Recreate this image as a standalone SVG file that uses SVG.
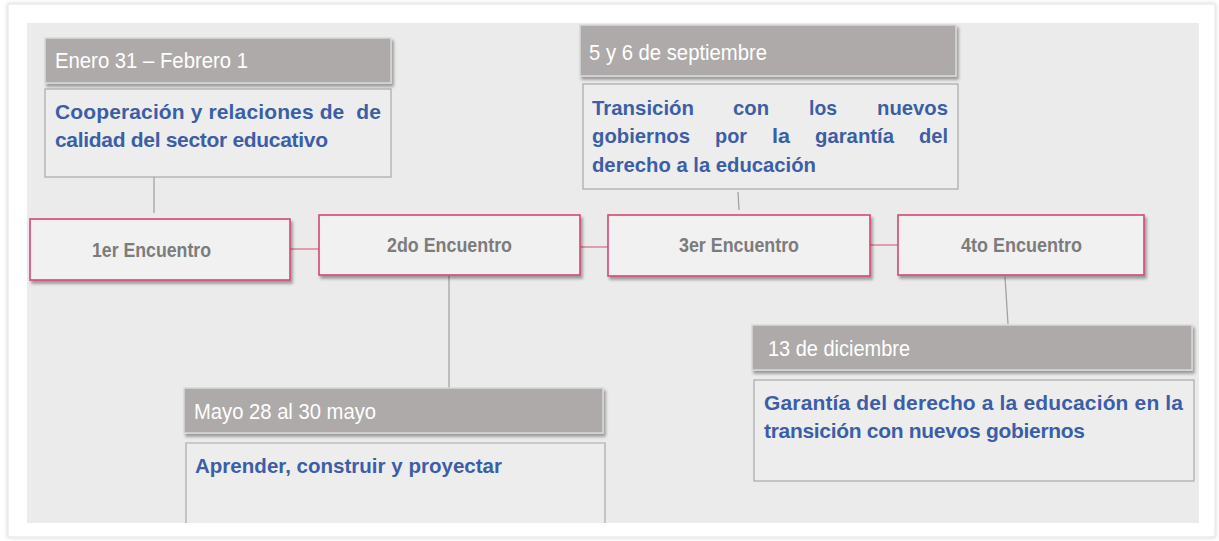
<svg xmlns="http://www.w3.org/2000/svg" width="1219" height="541" viewBox="0 0 1219 541">
<defs>
<filter id="sh" x="-5%" y="-20%" width="112%" height="150%">
<feDropShadow dx="2" dy="3" stdDeviation="1.6" flood-color="#000" flood-opacity="0.35"/>
</filter>
<filter id="card" x="-2%" y="-2%" width="104%" height="104%">
<feDropShadow dx="0" dy="0" stdDeviation="2" flood-color="#000" flood-opacity="0.18"/>
</filter>
<style>
.date{fill:#aeaaa9;stroke:#d9d9d9;stroke-width:1.5;filter:url(#sh)}
.content{fill:#ededed;stroke:#a8a8a8;stroke-width:1.2}
.enc{fill:#f1f1f1;stroke:#d24a70;stroke-width:1.6;filter:url(#sh)}
.dt{font-family:"Liberation Sans",Arial,sans-serif;font-size:22px;fill:#ffffff}
.ct{font-family:"Liberation Sans",Arial,sans-serif;font-size:21px;font-weight:bold;fill:#3c5ea6}
.et{font-family:"Liberation Sans",Arial,sans-serif;font-size:20px;font-weight:bold;fill:#7c7c7c}
.hl{stroke:#d9849b;stroke-width:1.5;fill:none}
.vl{stroke:#a3a3a3;stroke-width:1.3;fill:none}
</style>
</defs>
<rect x="0" y="0" width="1219" height="541" fill="#ffffff"/>
<rect x="8" y="4" width="1207" height="533" fill="#ffffff" stroke="#e3e3e3" stroke-width="1" filter="url(#card)"/>
<rect x="27" y="23" width="1172" height="500" fill="#ebebeb"/>

<g id="connectors">
<line class="hl" x1="290" y1="249" x2="319" y2="249"/>
<line class="hl" x1="580" y1="247" x2="608" y2="247"/>
<line class="hl" x1="870" y1="245" x2="898" y2="245"/>
<line class="vl" x1="154" y1="173" x2="154" y2="213"/>
<line class="vl" x1="449" y1="276" x2="449" y2="388"/>
<line class="vl" x1="738" y1="192" x2="739" y2="210"/>
<line class="vl" x1="1005" y1="277" x2="1008" y2="324"/>
</g>

<g id="event1">
<rect class="date" x="45" y="38" width="346" height="45"/>
<text class="dt" x="55" y="68" textLength="193" lengthAdjust="spacingAndGlyphs">Enero 31 – Febrero 1</text>
<rect class="content" x="45" y="89" width="346" height="88"/>
<text class="ct" x="55" y="119" textLength="326" lengthAdjust="spacing" xml:space="preserve">Cooperación y relaciones de  de</text>
<text class="ct" x="55" y="147" textLength="273" lengthAdjust="spacing">calidad del sector educativo</text>
</g>

<g id="event2">
<rect class="date" x="184" y="388" width="419" height="45"/>
<text class="dt" x="194" y="419" textLength="182" lengthAdjust="spacingAndGlyphs">Mayo 28 al 30 mayo</text>
<rect x="186" y="443" width="419" height="80" fill="#ededed"/>
<path class="content" fill="none" d="M186 523 V443 H605 V523"/>
<text class="ct" x="195" y="473" textLength="307" lengthAdjust="spacingAndGlyphs">Aprender, construir y proyectar</text>
</g>

<g id="event3">
<rect class="date" x="580" y="25" width="376" height="51"/>
<text class="dt" x="589" y="60" textLength="178" lengthAdjust="spacingAndGlyphs">5 y 6 de septiembre</text>
<rect class="content" x="583" y="84" width="375" height="105"/>
<g class="ct">
<text x="592" y="115" textLength="102" lengthAdjust="spacingAndGlyphs">Transición</text>
<text x="733" y="115" textLength="36" lengthAdjust="spacingAndGlyphs">con</text>
<text x="809" y="115" textLength="28" lengthAdjust="spacingAndGlyphs">los</text>
<text x="877" y="115" textLength="71" lengthAdjust="spacingAndGlyphs">nuevos</text>
<text x="592" y="143" textLength="98" lengthAdjust="spacingAndGlyphs">gobiernos</text>
<text x="715" y="143" textLength="32" lengthAdjust="spacingAndGlyphs">por</text>
<text x="772" y="143" textLength="18" lengthAdjust="spacingAndGlyphs">la</text>
<text x="815" y="143" textLength="79" lengthAdjust="spacingAndGlyphs">garantía</text>
<text x="919" y="143" textLength="29" lengthAdjust="spacingAndGlyphs">del</text>
<text x="592" y="172" textLength="224" lengthAdjust="spacingAndGlyphs">derecho a la educación</text>
</g>
</g>

<g id="event4">
<rect class="date" x="752" y="325" width="440" height="45"/>
<text class="dt" x="768" y="356" textLength="142" lengthAdjust="spacingAndGlyphs">13 de diciembre</text>
<rect class="content" x="754" y="380" width="440" height="101"/>
<text class="ct" x="764" y="410" textLength="419" lengthAdjust="spacing">Garantía del derecho a la educación en la</text>
<text class="ct" x="764" y="438" textLength="321" lengthAdjust="spacing">transición con nuevos gobiernos</text>
</g>

<g id="enc1">
<rect class="enc" x="30" y="219" width="260" height="61"/>
<text class="et" x="92" y="257" textLength="119" lengthAdjust="spacingAndGlyphs">1er Encuentro</text>
</g>
<g id="enc2">
<rect class="enc" x="319" y="215" width="261" height="60"/>
<text class="et" x="387" y="252" textLength="125" lengthAdjust="spacingAndGlyphs">2do Encuentro</text>
</g>
<g id="enc3">
<rect class="enc" x="608" y="215" width="262" height="61"/>
<text class="et" x="679" y="252" textLength="120" lengthAdjust="spacingAndGlyphs">3er Encuentro</text>
</g>
<g id="enc4">
<rect class="enc" x="898" y="215" width="246" height="60"/>
<text class="et" x="961" y="252" textLength="121" lengthAdjust="spacingAndGlyphs">4to Encuentro</text>
</g>
</svg>
